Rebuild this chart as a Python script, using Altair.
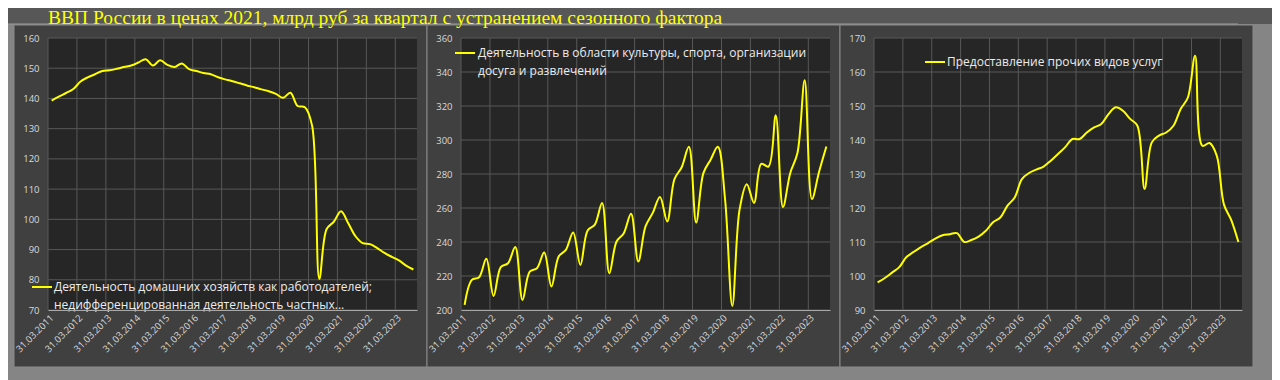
import json
import altair as alt
import pandas as pd

# ---------------- data ----------------
title_text = "ВВП России в ценах 2021, млрд руб за квартал с устранением сезонного фактора"

tick_labels = ["31.03.2011", "31.03.2012", "31.03.2013", "31.03.2014", "31.03.2015",
               "31.03.2016", "31.03.2017", "31.03.2018", "31.03.2019", "31.03.2020",
               "31.03.2021", "31.03.2022", "31.03.2023"]
tick_positions = [0, 4, 8, 12, 16, 20, 24, 28, 32, 36, 40, 44, 48]
grid_positions = [-0.5, 3.5, 7.5, 11.5, 15.5, 19.5, 23.5, 27.5, 31.5, 35.5, 39.5, 43.5, 47.5]
quarters = list(range(51))  # 2011Q1 ... 2023Q3

series1 = [139.3, 140.6, 141.8, 143.1, 145.6, 147.0, 148.0, 149.1, 149.3, 149.8,
           150.4, 150.9, 151.9, 153.0, 150.9, 152.6, 151.1, 150.4, 151.6, 149.7,
           149.1, 148.4, 148.0, 147.0, 146.3, 145.7, 145.0, 144.3, 143.7, 143.0,
           142.4, 141.5, 140.2, 141.9, 137.5, 137.1, 131.0, 80.3, 96.7, 99.2,
           102.7, 98.7, 94.4, 92.1, 91.8, 90.5, 88.9, 87.6, 86.4, 84.7, 83.4]
series2 = [203.0, 217.7, 219.3, 230.1, 208.3, 225.2, 227.5, 237.0, 205.9, 222.6,
           224.6, 233.8, 213.8, 231.5, 235.4, 245.6, 226.5, 246.8, 250.2, 263.0,
           221.6, 240.3, 245.2, 256.6, 228.5, 249.2, 257.1, 266.5, 252.1, 277.0,
           284.0, 296.0, 251.5, 280.5, 288.4, 296.0, 265.0, 202.4, 259.0, 274.0,
           263.0, 286.0, 284.4, 314.5, 260.6, 280.5, 292.3, 335.1, 265.3, 281.5, 296.2]
series3 = [98.1, 99.4, 101.0, 102.6, 105.6, 107.1, 108.5, 109.7, 111.0, 112.0,
           112.3, 112.6, 110.0, 110.6, 111.6, 113.3, 115.8, 117.2, 120.7, 123.1,
           128.5, 130.3, 131.3, 132.2, 133.9, 135.9, 137.9, 140.3, 140.3, 142.2,
           143.7, 144.7, 147.6, 149.6, 148.6, 146.2, 144.2, 125.6, 139.3, 141.3,
           142.2, 144.2, 149.1, 152.5, 164.8, 138.3, 139.1, 135.4, 121.0, 116.5, 110.0]

names1 = ["Деятельность домашних хозяйств как работодателей;",
          "недифференцированная деятельность частных..."]
names2 = ["Деятельность в области культуры, спорта, организации",
          "досуга и развлечений"]
names3 = ["Предоставление прочих видов услуг"]

y_ticks1 = [70, 80, 90, 100, 110, 120, 130, 140, 150, 160]
y_ticks2 = [200, 220, 240, 260, 280, 300, 320, 340, 360]
y_ticks3 = [90, 100, 110, 120, 130, 140, 150, 160, 170]

# ---------------- style ----------------
OUTER = "#858585"
BAND = "#575757"
FRAME = "#404040"
BORDER = "#8a8a8a"
PLOT = "#262626"
GRID = "#585858"
YELLOW = "#ffff00"
LABEL = "#d9d9d9"
LEGEND_TXT = "#ececec"
FONT = "Open Sans"
H = 272
CANVAS_W, CANVAS_H = 1264, 364
PAD_L, PAD_T = 40, 30
P3_OFFSET = 826  # distance from first panel's plot origin to the third's

one = alt.Data(values=[{"k": 0}])


def panel(values, yticks, names, legend, width, first=False, last=False):
    xs = alt.Scale(domain=[-0.5, len(quarters) - 0.5], nice=False, zero=False)
    ys = alt.Scale(domain=[yticks[0], yticks[-1]], nice=False, zero=False)
    x_axis = alt.Axis(values=tick_positions, title=None, grid=False, ticks=False,
                      domain=True, domainColor="#a8a8a8", domainWidth=1,
                      labelExpr=f"{json.dumps(tick_labels)}[round(datum.value/4)]",
                      labelAngle=-45, labelAlign="right", labelBaseline="middle",
                      labelPadding=6, labelColor=LABEL, labelFont=FONT,
                      labelFontSize=9.5, labelOverlap=False, labelFlush=False,
                      zindex=1)
    y_axis = alt.Axis(values=yticks, title=None, grid=False, ticks=False, domain=False,
                      labelPadding=9, labelColor=LABEL, labelFont=FONT,
                      labelFontSize=9.5, zindex=1)
    xenc = alt.X("q:Q", scale=xs, axis=x_axis)
    yenc = alt.Y("v:Q", scale=ys, axis=y_axis)

    layers = []
    if first:
        layers.append(alt.Chart(one).mark_rect(color=OUTER).encode(
            x=alt.value(-PAD_L), x2=alt.value(CANVAS_W - PAD_L),
            y=alt.value(-PAD_T), y2=alt.value(CANVAS_H - PAD_T)))
        layers.append(alt.Chart(one).mark_rect(color=BAND).encode(
            x=alt.value(-PAD_L), x2=alt.value(CANVAS_W - PAD_L),
            y=alt.value(-PAD_T), y2=alt.value(-14)))
        layers.append(alt.Chart(one).mark_rule(color="#9c9c9c", strokeWidth=1).encode(
            x=alt.value(-PAD_L), x2=alt.value(1190), y=alt.value(-14)))
    layers.append(alt.Chart(one).mark_rect(color=FRAME, stroke=BORDER, strokeWidth=1).encode(
        x=alt.value(-34), x2=alt.value(379), y=alt.value(-13), y2=alt.value(329)))
    layers.append(alt.Chart(one).mark_rect(color=PLOT).encode(
        x=alt.value(0), x2=alt.value(width), y=alt.value(0), y2=alt.value(H)))
    layers.append(alt.Chart(pd.DataFrame({"v": yticks})).mark_rule(
        color=GRID, strokeWidth=1).encode(y=yenc, x=alt.value(0), x2=alt.value(width)))
    layers.append(alt.Chart(pd.DataFrame({"q": grid_positions})).mark_rule(
        color=GRID, strokeWidth=1).encode(x=xenc, y=alt.value(0), y2=alt.value(H)))
    df = pd.DataFrame({"q": quarters, "v": values})
    layers.append(alt.Chart(df).mark_line(
        color=YELLOW, strokeWidth=2, interpolate="catmull-rom").encode(x=xenc, y=yenc))
    lx0, lx1, ly, tx = legend
    layers.append(alt.Chart(one).mark_rule(color=YELLOW, strokeWidth=2).encode(
        x=alt.value(lx0), x2=alt.value(lx1), y=alt.value(ly)))
    layers.append(alt.Chart(one).mark_text(
        align="left", baseline="middle", font=FONT, fontSize=12, color=LEGEND_TXT,
        lineHeight=18).encode(x=alt.value(tx), y=alt.value(ly),
                              text=alt.value(names)))
    if last:
        # page title, drawn last so that nothing covers it
        layers.append(alt.Chart(one).mark_text(
            align="left", baseline="middle", font="Liberation Serif", fontSize=19.5,
            color=YELLOW).encode(x=alt.value(-P3_OFFSET), y=alt.value(-20),
                                 text=alt.value(title_text)))
    return alt.layer(*layers).properties(width=width, height=H)


p1 = panel(series1, y_ticks1, names1, (-16, 4, 249, 6), 369, first=True)
p2 = panel(series2, y_ticks2, names2, (-6, 14, 15, 17), 369)
p3 = panel(series3, y_ticks3, names3, (51, 71, 24, 73), 368, last=True)

chart = alt.hconcat(p1, p2, p3, spacing=44, bounds="flush").properties(
    autosize=alt.AutoSizeParams(type="none"),
    padding={"left": PAD_L, "top": PAD_T,
             "right": CANVAS_W - PAD_L, "bottom": CANVAS_H - PAD_T},
    background=OUTER,
).configure_view(stroke=None)

chart.save("out.html", embed_options={"renderer": "svg", "actions": False})
